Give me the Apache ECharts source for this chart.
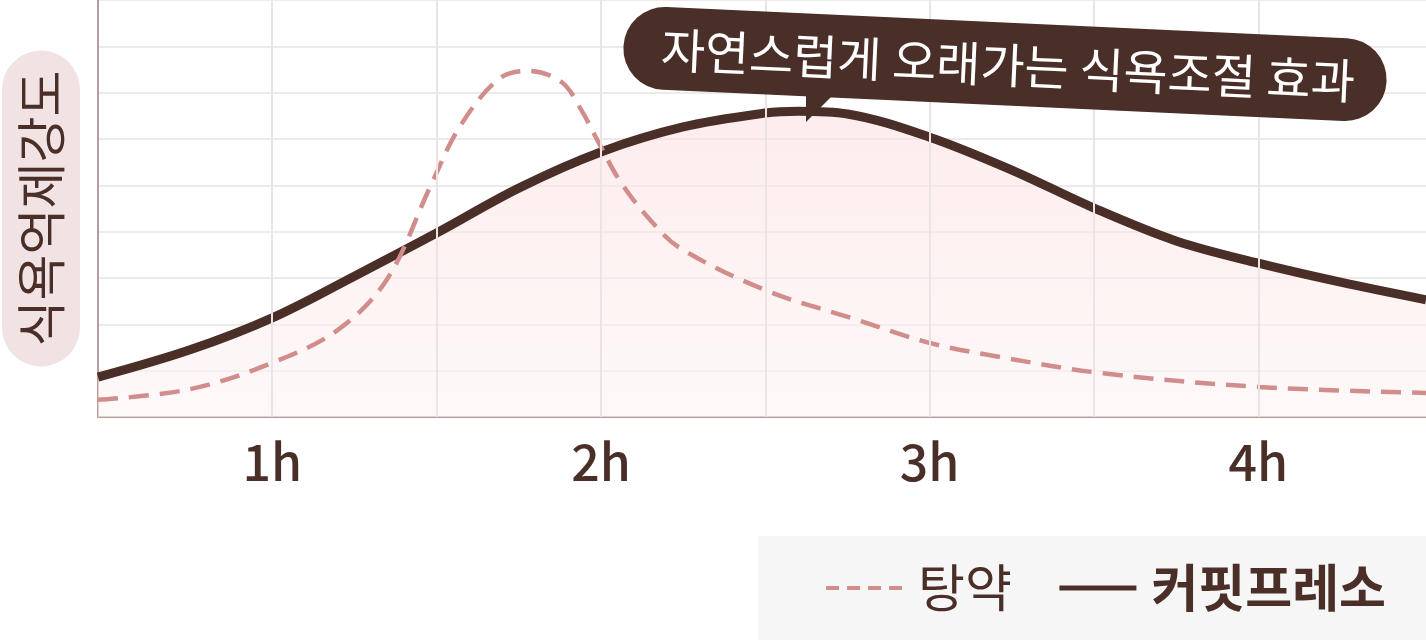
<!DOCTYPE html>
<html>
<head>
<meta charset="utf-8">
<style>
  html, body { margin: 0; padding: 0; background: #fff; }
  #chart { width: 1426px; height: 640px; }
</style>
<script src="https://cdn.jsdelivr.net/npm/echarts@6/dist/echarts.min.js"></script>
</head>
<body>
<div id="chart"></div>
<script>
// 시간(h)과 식욕억제강도 값
const coffeeHours = [0.47, 0.75, 1.0, 1.25, 1.5, 1.75, 2.0, 2.25, 2.5, 2.6, 2.75, 3.0, 3.25, 3.5, 3.75, 4.0, 4.25, 4.51];
const coffeeValues = [0.86, 1.45, 2.14, 3.04, 3.97, 4.94, 5.72, 6.26, 6.56, 6.6, 6.54, 6.04, 5.33, 4.51, 3.8, 3.32, 2.91, 2.53];

const herbHours = [0.47, 0.75, 1.0, 1.2, 1.35, 1.48, 1.57, 1.69, 1.78, 1.88, 1.94, 2.0, 2.06, 2.15, 2.24, 2.5, 2.76, 3.0, 3.21, 3.52, 4.0, 4.51];
const herbValues = [0.37, 0.6, 1.17, 1.88, 2.98, 4.96, 6.26, 7.3, 7.47, 7.23, 6.63, 5.83, 5.07, 4.25, 3.65, 2.74, 2.14, 1.6, 1.3, 0.95, 0.65, 0.52];

const tickHours = [1, 2, 3, 4];
const gridHours = [1, 1.5, 2, 2.5, 3, 3.5, 4];

const seriesNames = ['탕약', '커핏프레소'];
const yAxisTitle = '식욕억제강도';
const calloutText = '자연스럽게 오래가는 식욕조절 효과';

const FONT = '"Noto Sans CJK KR", "Noto Sans", sans-serif';
const BROWN = '#4a2e28';
const PINK = '#d08d8b';
const AXIS = '#b89e9a';

function zip(xs, ys) {
    return xs.map((x, i) => [x, ys[i]]);
}

const chart = echarts.init(document.getElementById('chart'));

const option = {
    animation: false,
    textStyle: { fontFamily: FONT },
    grid: { left: 98, right: 0, top: 0, bottom: 223, containLabel: false, outerBoundsMode: 'none' },
    xAxis: {
        type: 'value',
        min: 0.47,
        max: 4.51,
        axisLine: { lineStyle: { color: AXIS, width: 2 } },
        axisTick: {
            show: true, inside: true, length: 12, customValues: tickHours,
            lineStyle: { color: AXIS, width: 2 }
        },
        axisLabel: {
            customValues: tickHours,
            formatter: v => v + 'h',
            color: BROWN, fontSize: 50, fontWeight: 500, fontFamily: FONT, margin: 20
        },
        splitLine: { show: false }
    },
    yAxis: {
        type: 'value',
        min: 0,
        max: 9,
        interval: 1,
        name: yAxisTitle,
        nameLocation: 'middle',
        nameRotate: 90,
        nameGap: 18,
        nameTextStyle: {
            color: BROWN, fontSize: 50, fontFamily: FONT, lineHeight: 50,
            backgroundColor: '#f1e2e3', borderRadius: 39, padding: [14, 20, 14, 20]
        },
        axisLine: { show: true, lineStyle: { color: AXIS, width: 2 } },
        axisTick: { show: false },
        axisLabel: { show: false },
        splitLine: { lineStyle: { color: '#efeaea', width: 2 } }
    },
    legend: {
        right: 0,
        bottom: 0,
        backgroundColor: '#f6f6f6',
        padding: [26, 40, 26, 66],
        itemGap: 45,
        itemWidth: 77,
        itemHeight: 14,
        textStyle: { color: BROWN, fontSize: 51, lineHeight: 52, fontFamily: FONT, padding: [0, 0, 0, 10] },
        data: [
            {
                name: seriesNames[0],
                lineStyle: { width: 4, type: [13, 8] },
                itemStyle: { opacity: 0 },
                textStyle: { fontWeight: 'normal' }
            },
            {
                name: seriesNames[1],
                lineStyle: { width: 5 },
                itemStyle: { opacity: 0 },
                textStyle: { fontWeight: 'bold' }
            }
        ]
    },
    series: [
        {
            // 세로 격자선
            type: 'line',
            data: [],
            z: 1,
            silent: true,
            markLine: {
                silent: true,
                symbol: 'none',
                label: { show: false },
                lineStyle: { color: '#ece4e4', width: 2, type: 'solid' },
                data: gridHours.map(h => ({ xAxis: h }))
            }
        },
        {
            name: seriesNames[1],
            type: 'line',
            data: zip(coffeeHours, coffeeValues),
            smooth: 0.35,
            symbol: 'none',
            z: 3,
            lineStyle: { color: BROWN, width: 9 },
            itemStyle: { color: BROWN },
            areaStyle: {
                color: new echarts.graphic.LinearGradient(0, 0, 0, 1, [
                    { offset: 0, color: 'rgba(252, 224, 225, 0.85)' },
                    { offset: 1, color: 'rgba(253, 244, 244, 0.85)' }
                ])
            }
        },
        {
            name: seriesNames[0],
            type: 'line',
            data: zip(herbHours, herbValues),
            smooth: 0.35,
            symbol: 'none',
            z: 4,
            lineStyle: { color: PINK, width: 4.5, type: [20, 11] },
            itemStyle: { color: PINK }
        }
    ],
    graphic: [
        {
            type: 'polygon',
            z: 100,
            shape: { points: [[806, 90], [838, 90], [806, 122]] },
            style: { fill: BROWN }
        },
        {
            type: 'group',
            x: 1005,
            y: 64,
            rotation: -0.0458,
            children: [
                {
                    type: 'rect',
                    z: 100,
                    shape: { x: -382, y: -41.5, width: 764, height: 83, r: 41.5 },
                    style: { fill: BROWN }
                },
                {
                    type: 'text',
                    z: 101,
                    x: 3,
                    y: 1,
                    style: {
                        text: calloutText,
                        fill: '#fff',
                        font: '48px ' + FONT,
                        align: 'center',
                        verticalAlign: 'middle'
                    }
                }
            ]
        }
    ]
};

chart.setOption(option);
</script>
</body>
</html>
